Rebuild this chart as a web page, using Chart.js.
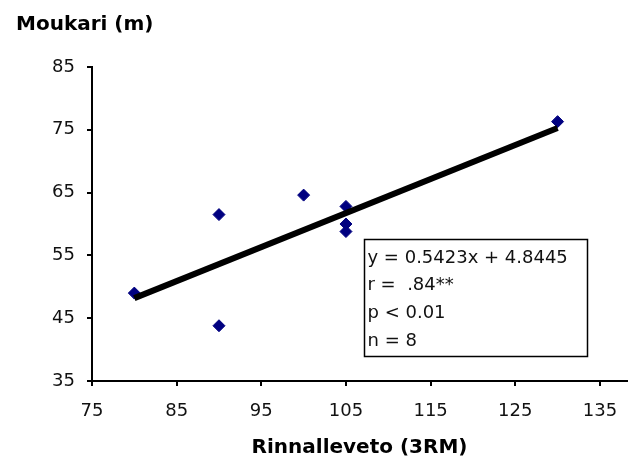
<!DOCTYPE html>
<html>
<head>
<meta charset="utf-8">
<script src="https://cdn.jsdelivr.net/npm/chart.js@4"></script>
<style>
  html, body { margin: 0; padding: 0; background: #fff; overflow: hidden; }
  #wrap { width: 634px; height: 463px; }
</style>
</head>
<body>
<div id="wrap"><canvas id="myChart" width="634" height="463"></canvas></div>
<script>
// values
const rmValues = [80, 90, 90, 100, 105, 105, 105, 130];        // Rinnalleveto (3RM)
const throwValues = [49.0, 61.5, 43.8, 64.6, 62.8, 60.0, 58.8, 76.3]; // Moukari (m)

// ends of the trend line as drawn
const trendX = [80, 130];
const trendY = [48.2, 75.3];

const xTicks = [75, 85, 95, 105, 115, 125, 135];
const yTicks = [35, 45, 55, 65, 75, 85];

const statLines = ['y = 0.5423x + 4.8445', 'r =  .84**', 'p < 0.01', 'n = 8'];

const points = [];
rmValues.forEach((x, i) => points.push({ x: x, y: throwValues[i] }));

const trend = [];
trendX.forEach((x, i) => trend.push({ x: x, y: trendY[i] }));

// text box with the regression stats, placed in data units
const statBox = {
  id: 'statBox',
  afterDatasetsDraw(chart) {
    const ctx = chart.ctx;
    const xs = chart.scales.x;
    const ys = chart.scales.y;
    const left = Math.round(xs.getPixelForValue(107.1)) + 0.5;
    const top = Math.round(ys.getPixelForValue(57.6)) + 0.5;
    const w = 223, h = 117;
    ctx.save();
    ctx.fillStyle = '#fff';
    ctx.fillRect(left, top, w, h);
    ctx.strokeStyle = '#000';
    ctx.lineWidth = 1.5;
    ctx.strokeRect(left, top, w, h);
    ctx.fillStyle = '#111';
    ctx.font = '18px "DejaVu Sans"';
    ctx.textBaseline = 'alphabetic';
    statLines.forEach((line, i) => {
      ctx.fillText(line, left + 3, top + 23 + i * 27.7);
    });
    ctx.restore();
  }
};

const tickFont = { family: 'DejaVu Sans', size: 18 };
const titleFont = { family: 'DejaVu Sans', size: 20, weight: 'bold' };

var ctx = document.getElementById('myChart');

var myChart = new Chart(ctx, {
  type: 'scatter',
  data: {
    datasets: [
      {
        label: 'Trend',
        type: 'line',
        data: trend,
        borderColor: '#000',
        borderWidth: 6,
        pointRadius: 0,
        fill: false,
        order: 0
      },
      {
        label: 'Moukari',
        data: points,
        pointStyle: 'rectRot',
        pointRadius: 6,
        pointBackgroundColor: '#000080',
        pointBorderColor: '#000080',
        pointBorderWidth: 1,
        order: 1
      }
    ]
  },
  options: {
    responsive: false,
    animation: false,
    layout: { padding: { left: 16, right: 0, top: 0, bottom: 0 } },
    plugins: {
      legend: { display: false },
      tooltip: { enabled: false },
      title: {
        display: true,
        text: 'Moukari (m)',
        align: 'start',
        color: '#000',
        font: titleFont,
        padding: { top: 13, bottom: 30 }
      }
    },
    scales: {
      x: {
        type: 'linear',
        min: 75,
        max: 138.2,
        ticks: { color: '#111', font: tickFont, padding: 15, maxRotation: 0 },
        afterBuildTicks: s => { s.ticks = xTicks.map(v => ({ value: v })); },
        afterFit: s => { s.height = 82; s.paddingRight = 0; },
        grid: { drawOnChartArea: false, drawTicks: true, tickLength: 5, color: '#000', lineWidth: 2 },
        border: { color: '#000', width: 2 },
        title: {
          display: true,
          text: 'Rinnalleveto (3RM)',
          color: '#000',
          font: titleFont,
          padding: { top: 0, bottom: 3 }
        }
      },
      y: {
        type: 'linear',
        min: 35,
        max: 85,
        ticks: { color: '#111', font: tickFont, padding: 12 },
        afterBuildTicks: s => { s.ticks = yTicks.map(v => ({ value: v })); },
        afterFit: s => { s.width = 76; },
        grid: { drawOnChartArea: false, drawTicks: true, tickLength: 5, color: '#000', lineWidth: 2 },
        border: { color: '#000', width: 2 }
      }
    }
  },
  plugins: [statBox]
});
</script>
</body>
</html>
